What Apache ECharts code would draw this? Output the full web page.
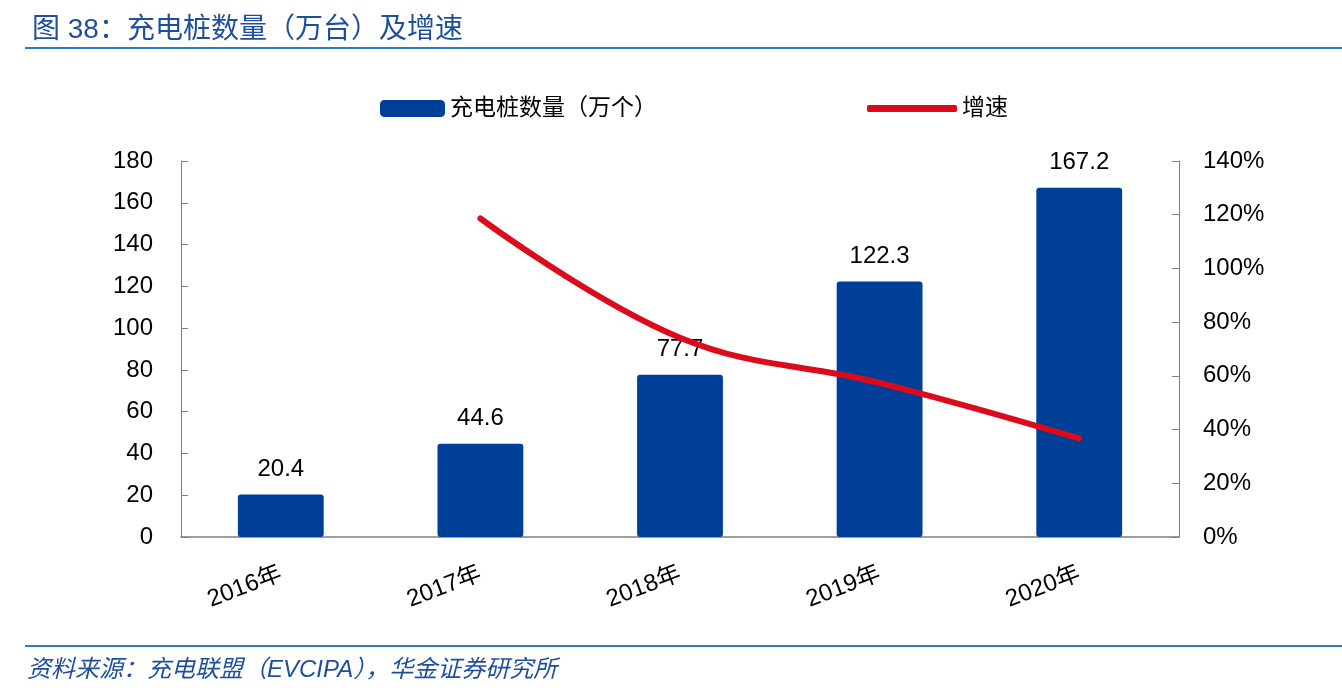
<!DOCTYPE html>
<html><head><meta charset="utf-8">
<script src="https://cdn.jsdelivr.net/npm/echarts@6/dist/echarts.min.js"></script>
<style>html,body{margin:0;padding:0;background:#fff}#c{width:1342px;height:694px}</style>
</head><body><div id="c"></div>
<script>
const categories = ['2016年','2017年','2018年','2019年','2020年'];
const pileCounts = [20.4, 44.6, 77.7, 122.3, 167.2];
const growthRates = [null, 118.6, 74.2, 57.4, 36.7];
const leftTicks = {min:0, max:180, interval:20};
const rightTicks = {min:0, max:140, interval:20};

const FONT = '"Liberation Sans", Arial, "Noto Sans CJK SC", sans-serif';
const chart = echarts.init(document.getElementById('c'));
chart.setOption({
  backgroundColor:'#fff',
  textStyle:{fontFamily:FONT},
  title:{text:'图 38：充电桩数量（万台）及增速', left:27, top:11,
    textStyle:{fontFamily:FONT, fontSize:28, fontWeight:'normal', color:'#1f4f9c'}},
  graphic:[
    {type:'rect', shape:{x:25,y:47,width:1317,height:2}, style:{fill:'#2e7abf'}},
    {type:'rect', shape:{x:25,y:645,width:1317,height:2}, style:{fill:'#2e7abf'}},
    {type:'text', left:27, top:658, style:{text:'资料来源：充电联盟（EVCIPA），华金证券研究所', fontFamily:FONT, fontSize:24, fontStyle:'italic', fill:'#1f4f9c'}}
  ],
  legend:[
    {data:['充电桩数量（万个）'], left:375, top:92, itemWidth:65, itemHeight:17,
      icon:'roundRect', textStyle:{fontSize:23, color:'#000', fontFamily:FONT}},
    {data:['增速'], left:862, top:92, itemWidth:90, itemHeight:7, icon:'roundRect',
      textStyle:{fontSize:23, color:'#000', fontFamily:FONT}}
  ],
  grid:{left:181, right:163, top:161, bottom:157},
  xAxis:{type:'category', data:categories,
    axisLine:{lineStyle:{color:'#7f7f7f', width:1.5}},
    axisTick:{inside:true, length:8, lineStyle:{color:'#7f7f7f'}},
    axisLabel:{rotate:21, margin:36, fontSize:24, color:'#000', fontFamily:FONT}},
  yAxis:[
    {type:'value', min:leftTicks.min, max:leftTicks.max, interval:leftTicks.interval,
      axisLine:{show:true, lineStyle:{color:'#7f7f7f'}},
      axisTick:{show:true, inside:true, length:7, lineStyle:{color:'#7f7f7f'}},
      splitLine:{show:false},
      axisLabel:{margin:28, fontSize:24, color:'#000', fontFamily:FONT}},
    {type:'value', min:rightTicks.min, max:rightTicks.max, interval:rightTicks.interval,
      axisLine:{show:true, lineStyle:{color:'#7f7f7f'}},
      axisTick:{show:true, inside:true, length:7, lineStyle:{color:'#7f7f7f'}},
      splitLine:{show:false},
      axisLabel:{margin:24, fontSize:24, color:'#000', fontFamily:FONT, formatter:'{value}%'}}
  ],
  series:[
    {name:'充电桩数量（万个）', type:'bar', data:pileCounts, barWidth:'43%',
      itemStyle:{color:'#003f98', borderRadius:3},
      label:{show:true, position:'top', distance:13, fontSize:24, color:'#000', fontFamily:FONT}},
    {name:'增速', type:'line', yAxisIndex:1, data:growthRates, smooth:0.4,
      showSymbol:false, symbol:'none', connectNulls:false,
      lineStyle:{color:'#dc0b1b', width:6, cap:'round'}, itemStyle:{color:'#dc0b1b'}}
  ]
});
</script></body></html>
